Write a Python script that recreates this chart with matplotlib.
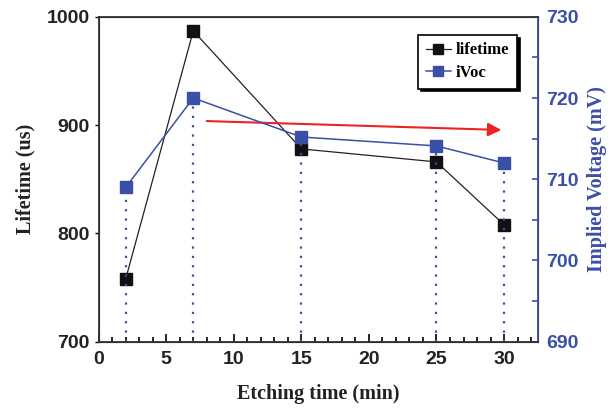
import matplotlib.pyplot as plt
import numpy as np

# datos
etch_time = [2, 7, 15, 25, 30]
lifetime = [758, 987, 878, 866, 808]
ivoc = [709, 720, 715.2, 714.1, 712]

blue = '#3a4fa6'
tick_font = {'family': 'Liberation Sans', 'weight': 'bold', 'size': 14}
label_font = {'family': 'Liberation Serif', 'weight': 'bold', 'size': 14.5}

fig = plt.figure(figsize=(6.15, 4.09), dpi=100)
ax = fig.add_axes([0.1605, 0.1645, 0.714, 0.7945])
ax2 = ax.twinx()

# lineas verticales punteadas hasta iVoc
ax2.vlines(etch_time, 690, ivoc, colors=blue, linestyles=(0, (1, 3.2)), linewidth=1.6, zorder=1)

l1, = ax.plot(etch_time, lifetime, color='#222222', lw=0.9, marker='s', ms=8,
              mfc='#111111', mec='#111111', label='lifetime', zorder=3)
l2, = ax2.plot(etch_time, ivoc, color=blue, lw=1.1, marker='s', ms=8,
               mfc=blue, mec=blue, label='iVoc', zorder=3)

# flecha roja
ax.annotate('', xy=(29.8, 895.5), xytext=(8.0, 903.7),
            arrowprops=dict(arrowstyle='-|>', color='#ee2222', lw=1.5,
                            mutation_scale=20, shrinkA=0, shrinkB=0))

# ejes
ax.set_xlim(0, 32.5)
ax.set_ylim(700, 1000)
ax2.set_ylim(690, 730)
ax.set_xticks([0, 5, 10, 15, 20, 25, 30])
ax.set_xticks(np.arange(0, 33, 1), minor=True)
ax.set_yticks([700, 800, 900, 1000])
ax2.set_yticks([690, 700, 710, 720, 730])
ax2.set_yticks([695, 705, 715, 725], minor=True)

ax.tick_params(axis='x', which='major', direction='in', length=6, width=1.2, top=False, pad=7)
ax.tick_params(axis='x', which='minor', direction='in', length=3.5, width=1.2, top=False)
ax.tick_params(axis='y', which='major', direction='out', length=3, width=1, right=False)
ax2.tick_params(axis='y', which='both', direction='in', length=4, width=1.2, colors=blue, pad=6)

for lab in ax.get_xticklabels() + ax.get_yticklabels():
    lab.set_fontproperties(tick_font)
    lab.set_color('#222222')
for lab in ax2.get_yticklabels():
    lab.set_fontproperties(tick_font)
    lab.set_color(blue)

ax.set_xlabel('Etching time (min)', fontdict=label_font, labelpad=11, color='#222222')
ax.set_ylabel('Lifetime (us)', fontdict=label_font, labelpad=8, color='#222222')
ax2.set_ylabel('Implied Voltage (mV)', fontdict=label_font, labelpad=6, color=blue)

for side in ['left', 'bottom', 'top']:
    ax2.spines[side].set_color('#333333')
    ax2.spines[side].set_linewidth(1.3)
ax2.spines['right'].set_color(blue)
ax2.spines['right'].set_linewidth(1.3)

leg = ax2.legend(handles=[l1, l2], loc='upper right', bbox_to_anchor=(0.952, 0.944),
                 borderaxespad=0, fancybox=False, shadow={'color': 'black', 'alpha': 1},
                 framealpha=1, edgecolor='black', handlelength=1.5, handletextpad=0.3,
                 borderpad=0.45, labelspacing=0.4, markerscale=0.85,
                 prop={'family': 'Liberation Serif', 'weight': 'bold', 'size': 12})
leg.get_frame().set_linewidth(1.2)

plt.savefig('out.png', dpi=100)
